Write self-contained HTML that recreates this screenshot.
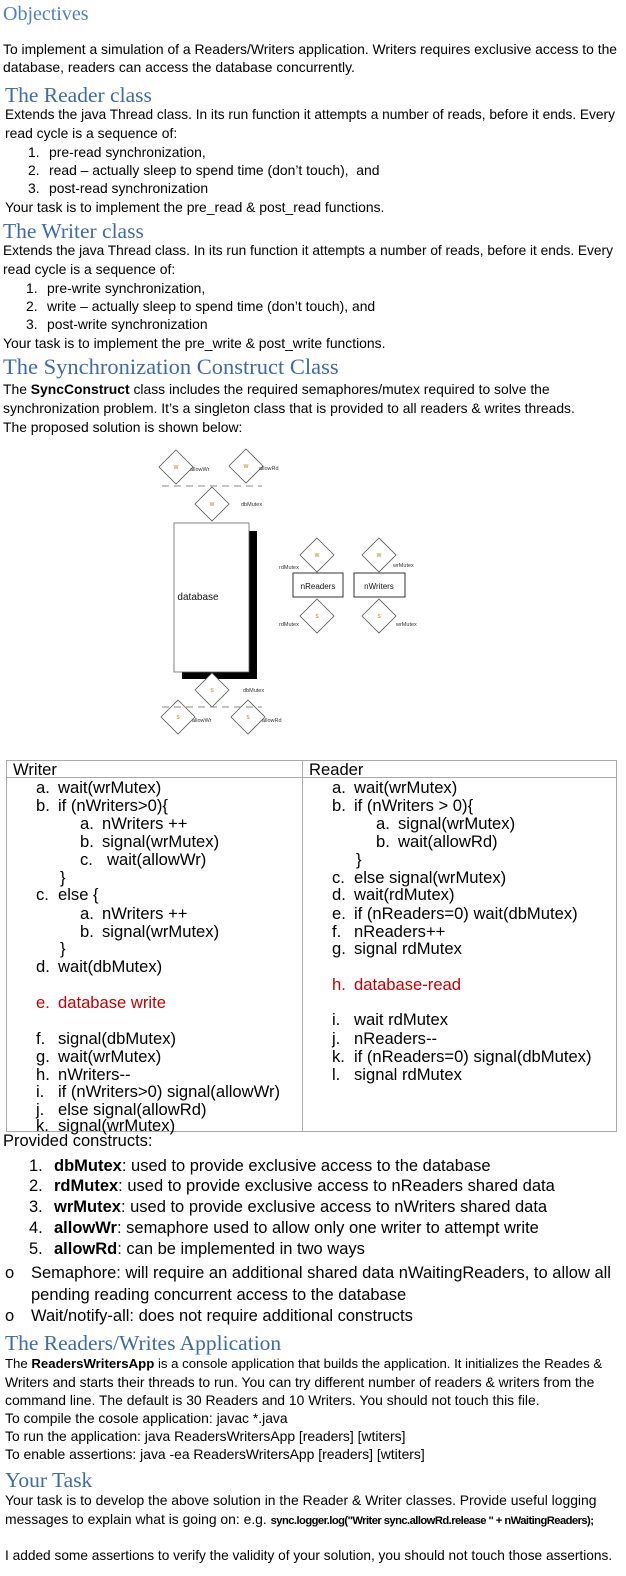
<!DOCTYPE html>
<html><head><meta charset="utf-8">
<style>
html,body{margin:0;padding:0;background:#fff;}
body{width:626px;height:1576px;position:relative;overflow:hidden;font-family:"Liberation Sans",sans-serif;color:#000;}
.l{position:absolute;white-space:nowrap;line-height:16px;font-size:13.9px;}
.h{position:absolute;white-space:nowrap;font-family:"Liberation Serif",serif;color:#3e6aa6;font-size:21.5px;line-height:24px;}
.b{position:absolute;white-space:nowrap;line-height:18px;font-size:16.5px;}
.t{position:absolute;white-space:nowrap;line-height:18px;font-size:16.6px;}
.red{color:#c00000;}
</style></head><body>

<div class="h" style="left:3px;top:2px;font-size:20px;color:#4f81bd">Objectives</div>
<div class="l" style="left:3px;top:41px">To implement a simulation of a Readers/Writers application. Writers requires exclusive access to the</div>
<div class="l" style="left:3px;top:59px">database, readers can access the database concurrently.</div>

<div class="h" style="left:5px;top:83px">The Reader class</div>
<div class="l" style="left:5px;top:107px;font-size:13.7px">Extends the java Thread class. In its run function it attempts a number of reads, before it ends. Every</div>
<div class="l" style="left:5px;top:125px">read cycle is a sequence of:</div>
<div class="l" style="left:28px;top:144px">1.</div><div class="l" style="left:49px;top:144px">pre-read synchronization,</div>
<div class="l" style="left:28px;top:162px">2.</div><div class="l" style="left:49px;top:162px">read – actually sleep to spend time (don’t touch),&nbsp; and</div>
<div class="l" style="left:28px;top:180px">3.</div><div class="l" style="left:49px;top:180px">post-read synchronization</div>
<div class="l" style="left:5px;top:199px">Your task is to implement the pre_read &amp; post_read functions.</div>

<div class="h" style="left:3px;top:219px">The Writer class</div>
<div class="l" style="left:3px;top:243px;font-size:13.7px">Extends the java Thread class. In its run function it attempts a number of reads, before it ends. Every</div>
<div class="l" style="left:3px;top:261px">read cycle is a sequence of:</div>
<div class="l" style="left:26px;top:280px">1.</div><div class="l" style="left:47px;top:280px">pre-write synchronization,</div>
<div class="l" style="left:26px;top:298px">2.</div><div class="l" style="left:47px;top:298px">write – actually sleep to spend time (don’t touch), and</div>
<div class="l" style="left:26px;top:316px">3.</div><div class="l" style="left:47px;top:316px">post-write synchronization</div>
<div class="l" style="left:3px;top:335px">Your task is to implement the pre_write &amp; post_write functions.</div>

<div class="h" style="left:3px;top:355px;font-size:22.5px">The Synchronization Construct Class</div>
<div class="l" style="left:3px;top:381px">The <b>SyncConstruct</b> class includes the required semaphores/mutex required to solve the</div>
<div class="l" style="left:3px;top:400px">synchronization problem. It’s a singleton class that is provided to all readers &amp; writes threads.</div>
<div class="l" style="left:3px;top:419px">The proposed solution is shown below:</div>

<svg style="position:absolute;left:0;top:0" width="626" height="760" viewBox="0 0 626 760">
<g fill="#fff" stroke="#555" stroke-width="0.8">
<rect x="182" y="531" width="75" height="148" fill="#000" stroke="none"/>
<rect x="174" y="523" width="75" height="149" fill="#fff" stroke="#666"/>
<polygon points="176,450 193,467 176,484 159,467"/>
<polygon points="246,449 263,466 246,483 229,466"/>
<polygon points="212,487 229,504 212,521 195,504"/>
<polygon points="317,538 334,555 317,572 300,555"/>
<polygon points="379,538 396,555 379,572 362,555"/>
<polygon points="317,599 334,616 317,633 300,616"/>
<polygon points="379,599 396,616 379,633 362,616"/>
<polygon points="212,673 229,690 212,707 195,690"/>
<polygon points="178,700 195,717 178,734 161,717"/>
<polygon points="248,700 265,717 248,734 231,717"/>
<rect x="293" y="573" width="50" height="24" stroke="#333" stroke-width="1"/>
<rect x="354" y="573" width="51" height="24" stroke="#333" stroke-width="1"/>
</g>
<g stroke="#888" stroke-width="1" stroke-dasharray="7,5">
<line x1="162" y1="486" x2="262" y2="486"/>
<line x1="162" y1="707" x2="262" y2="707"/>
</g>
<g font-family="Liberation Sans,sans-serif" font-size="5.5" fill="#333">
<text x="190" y="471">allowWr</text>
<text x="259" y="470">allowRd</text>
<text x="241" y="506">dbMutex</text>
<text x="279" y="569">rdMutex</text>
<text x="279" y="626">rdMutex</text>
<text x="393" y="567">wrMutex</text>
<text x="396" y="626">wrMutex</text>
<text x="243" y="692">dbMutex</text>
<text x="192" y="722">allowWr</text>
<text x="262" y="722">allowRd</text>
<g font-size="5" fill="#a70" text-anchor="middle">
<text x="176" y="469">W</text><text x="246" y="468">W</text><text x="212" y="506">W</text>
<text x="317" y="557">W</text><text x="379" y="557">W</text>
<text x="317" y="618">S</text><text x="379" y="618">S</text>
<text x="212" y="692">S</text><text x="178" y="719">S</text><text x="248" y="719">S</text>
</g>
<text x="198" y="600" font-size="10" fill="#111" text-anchor="middle">database</text>
<text x="318" y="589" font-size="8" fill="#111" text-anchor="middle">nReaders</text>
<text x="379" y="589" font-size="8" fill="#111" text-anchor="middle">nWriters</text>
</g>
</svg>

<!-- table -->
<div style="position:absolute;left:6px;top:760px;width:611px;height:372px;border:1px solid #aaa;box-sizing:border-box"></div>
<div style="position:absolute;left:6px;top:777px;width:611px;height:1px;background:#aaa"></div>
<div style="position:absolute;left:302px;top:760px;width:1px;height:372px;background:#aaa"></div>
<div class="t" style="left:13px;top:761px">Writer</div>
<div class="t" style="left:309px;top:761px">Reader</div>

<div class="t" style="left:36px;top:779px">a.</div><div class="t" style="left:58px;top:779px">wait(wrMutex)</div>
<div class="t" style="left:36px;top:797px">b.</div><div class="t" style="left:58px;top:797px">if (nWriters&gt;0){</div>
<div class="t" style="left:80px;top:815px">a.</div><div class="t" style="left:102px;top:815px">nWriters ++</div>
<div class="t" style="left:80px;top:833px">b.</div><div class="t" style="left:102px;top:833px">signal(wrMutex)</div>
<div class="t" style="left:80px;top:851px">c.</div><div class="t" style="left:107px;top:851px">wait(allowWr)</div>
<div class="t" style="left:60px;top:869px">}</div>
<div class="t" style="left:36px;top:886px">c.</div><div class="t" style="left:58px;top:886px">else {</div>
<div class="t" style="left:80px;top:905px">a.</div><div class="t" style="left:102px;top:905px">nWriters ++</div>
<div class="t" style="left:80px;top:923px">b.</div><div class="t" style="left:102px;top:923px">signal(wrMutex)</div>
<div class="t" style="left:60px;top:940px">}</div>
<div class="t" style="left:36px;top:958px">d.</div><div class="t" style="left:58px;top:958px">wait(dbMutex)</div>
<div class="t red" style="left:36px;top:994px">e.</div><div class="t red" style="left:58px;top:994px">database write</div>
<div class="t" style="left:36px;top:1030px">f.</div><div class="t" style="left:58px;top:1030px">signal(dbMutex)</div>
<div class="t" style="left:36px;top:1048px">g.</div><div class="t" style="left:58px;top:1048px">wait(wrMutex)</div>
<div class="t" style="left:36px;top:1066px">h.</div><div class="t" style="left:58px;top:1066px">nWriters--</div>
<div class="t" style="left:36px;top:1083px">i.</div><div class="t" style="left:58px;top:1083px">if (nWriters&gt;0) signal(allowWr)</div>
<div class="t" style="left:36px;top:1101px">j.</div><div class="t" style="left:58px;top:1101px">else signal(allowRd)</div>
<div class="t" style="left:36px;top:1117px">k.</div><div class="t" style="left:58px;top:1117px">signal(wrMutex)</div>

<div class="t" style="left:332px;top:779px">a.</div><div class="t" style="left:354px;top:779px">wait(wrMutex)</div>
<div class="t" style="left:332px;top:797px">b.</div><div class="t" style="left:354px;top:797px">if (nWriters &gt; 0){</div>
<div class="t" style="left:376px;top:815px">a.</div><div class="t" style="left:398px;top:815px">signal(wrMutex)</div>
<div class="t" style="left:376px;top:833px">b.</div><div class="t" style="left:398px;top:833px">wait(allowRd)</div>
<div class="t" style="left:356px;top:851px">}</div>
<div class="t" style="left:332px;top:869px">c.</div><div class="t" style="left:354px;top:869px">else signal(wrMutex)</div>
<div class="t" style="left:332px;top:886px">d.</div><div class="t" style="left:354px;top:886px">wait(rdMutex)</div>
<div class="t" style="left:332px;top:905px">e.</div><div class="t" style="left:354px;top:905px">if (nReaders=0) wait(dbMutex)</div>
<div class="t" style="left:332px;top:923px">f.</div><div class="t" style="left:354px;top:923px">nReaders++</div>
<div class="t" style="left:332px;top:940px">g.</div><div class="t" style="left:354px;top:940px">signal rdMutex</div>
<div class="t red" style="left:332px;top:976px">h.</div><div class="t red" style="left:354px;top:976px">database-read</div>
<div class="t" style="left:332px;top:1011px">i.</div><div class="t" style="left:354px;top:1011px">wait rdMutex</div>
<div class="t" style="left:332px;top:1030px">j.</div><div class="t" style="left:354px;top:1030px">nReaders--</div>
<div class="t" style="left:332px;top:1048px">k.</div><div class="t" style="left:354px;top:1048px">if (nReaders=0) signal(dbMutex)</div>
<div class="t" style="left:332px;top:1066px">l.</div><div class="t" style="left:354px;top:1066px">signal rdMutex</div>

<div class="b" style="left:3px;top:1132px">Provided constructs:</div>
<div class="b" style="left:29px;top:1157px">1.</div><div class="b" style="left:54px;top:1157px"><b>dbMutex</b>: used to provide exclusive access to the database</div>
<div class="b" style="left:29px;top:1177px">2.</div><div class="b" style="left:54px;top:1177px"><b>rdMutex</b>: used to provide exclusive access to nReaders shared data</div>
<div class="b" style="left:29px;top:1198px">3.</div><div class="b" style="left:54px;top:1198px"><b>wrMutex</b>: used to provide exclusive access to nWriters shared data</div>
<div class="b" style="left:29px;top:1219px">4.</div><div class="b" style="left:54px;top:1219px"><b>allowWr</b>: semaphore used to allow only one writer to attempt write</div>
<div class="b" style="left:29px;top:1240px">5.</div><div class="b" style="left:54px;top:1240px"><b>allowRd</b>: can be implemented in two ways</div>
<div class="b" style="left:5px;top:1264px">o</div><div class="b" style="left:31px;top:1264px">Semaphore: will require an additional shared data nWaitingReaders, to allow all</div>
<div class="b" style="left:31px;top:1286px">pending reading concurrent access to the database</div>
<div class="b" style="left:5px;top:1307px">o</div><div class="b" style="left:31px;top:1307px">Wait/notify-all: does not require additional constructs</div>

<div class="h" style="left:5px;top:1331px">The Readers/Writes Application</div>
<div class="l" style="left:5px;top:1356px;font-size:13.2px">The <b>ReadersWritersApp</b> is a console application that builds the application. It initializes the Reades &amp;</div>
<div class="l" style="left:5px;top:1374px">Writers and starts their threads to run. You can try different number of readers &amp; writers from the</div>
<div class="l" style="left:5px;top:1392px">command line. The default is 30 Readers and 10 Writers. You should not touch this file.</div>
<div class="l" style="left:5px;top:1410px">To compile the cosole application: javac *.java</div>
<div class="l" style="left:5px;top:1428px">To run the application: java ReadersWritersApp [readers] [wtiters]</div>
<div class="l" style="left:5px;top:1446px">To enable assertions: java -ea ReadersWritersApp [readers] [wtiters]</div>

<div class="h" style="left:5px;top:1468px">Your Task</div>
<div class="l" style="left:5px;top:1492px">Your task is to develop the above solution in the Reader &amp; Writer classes. Provide useful logging</div>
<div class="l" style="left:5px;top:1511px">messages to explain what is going on: e.g. <b style="font-size:11.2px;letter-spacing:-0.55px">sync.logger.log("Writer sync.allowRd.release " + nWaitingReaders);</b></div>
<div class="l" style="left:5px;top:1548px;font-size:13.7px">I added some assertions to verify the validity of your solution, you should not touch those assertions.</div>

</body></html>
